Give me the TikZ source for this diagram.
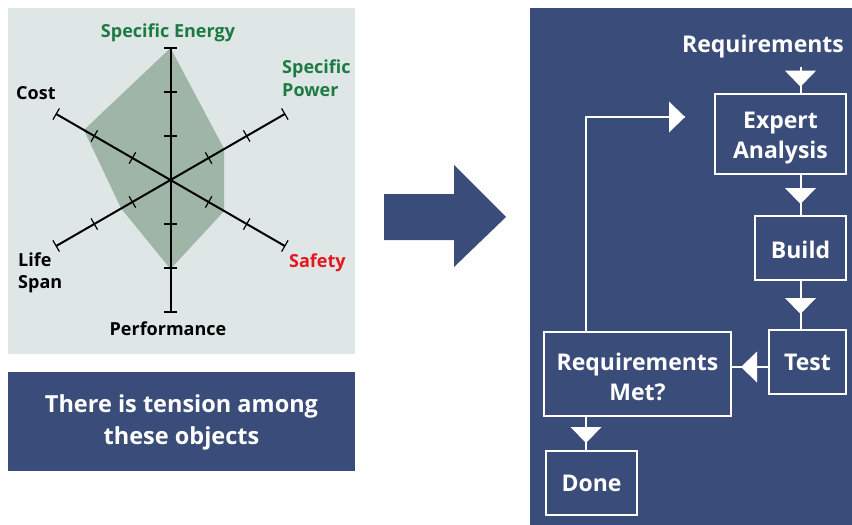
\documentclass[tikz,border=0pt]{standalone}
\usepackage{fontspec}
\setmainfont{Open Sans}
\usetikzlibrary{decorations.markings,calc}
\definecolor{navy}{HTML}{3A4C79}
\definecolor{bgpale}{HTML}{DEE7E5}
\definecolor{polyfill}{HTML}{9EB5A8}
\definecolor{lblgreen}{HTML}{1E7A45}
\definecolor{lblred}{HTML}{E8141E}
\begin{document}
\begin{tikzpicture}[x=1pt,y=-1pt,
  box/.style={draw=white,line width=2pt,fill=navy,inner sep=0pt},
  boxtext/.style={text=white,inner sep=0pt,align=center,
    font=\fontsize{23}{30}\selectfont\bfseries},
  flow/.style={draw=white,line width=2pt},
  tri/.style={postaction={decorate},decoration={markings,
    mark=at position #1 with {\fill[white] (0,0) -- (-16,15.5) -- (-16,-15.5) -- cycle;}}},
  lbl/.style={font=\fontsize{18}{22.5}\selectfont\bfseries,inner sep=0pt},
  axis/.style={line width=2pt,black},
  tick/.style={line width=1.2pt,black}]
\useasboundingbox (0,0) rectangle (852,525);
% left panel
\fill[bgpale] (8,8) rectangle (355,354);
\begin{scope}[shift={(170.5,180)},yscale=-1]
  \fill[polyfill] (90:132) -- (30:62) -- (-30:62) -- (-90:89) -- (-150:57) -- (150:100) -- cycle;
  \foreach \a in {90,30,-30,-90,-150,150}{
    \draw[axis] (0,0) -- (\a:132);
    \foreach \r in {44,88,132}{
      \draw[tick] (\a:\r) ++(\a+90:6.5) -- ++(\a-90:13);
    }
  }
\end{scope}
\node[lbl,text=lblgreen] (se) at (168,33) {Specific Energy};
\node[lbl,text=lblgreen,align=left,anchor=west] (sp) at (282,78) {Specific\\Power};
\node[lbl,text=lblred,anchor=west] (sa) at (289,263) {Safety};
\node[lbl] (pf) at (168,329) {Performance};
\node[lbl,align=left,anchor=west] (ls) at (18,273) {Life\\Span};
\node[lbl,anchor=west] (co) at (16,93) {Cost};
% caption box
\node[fill=navy,minimum width=347pt,minimum height=99pt,inner sep=0pt] (cap) at (181.5,421.5) {};
\node[text=white,inner sep=0pt,align=center,font=\fontsize{23.5}{32}\selectfont\bfseries]
  (captext) at ([yshift=-1pt]cap.center) {There is tension among\\these objects};
% big arrow
\fill[navy] (384,194) -- (454,194) -- (454,165) -- (506,217) -- (454,267) -- (454,240) -- (384,240) -- cycle;
% right panel
\fill[navy] (530,8) rectangle (852,525);
\node[boxtext] (req) at (763,47) {Requirements};
\node[box,minimum width=131pt,minimum height=80pt] (ea) at (780.5,134) {};
\node[box,minimum width=91pt,minimum height=64pt] (build) at (800.5,248) {};
\node[box,minimum width=77pt,minimum height=64pt] (test) at (807.5,362) {};
\node[box,minimum width=187pt,minimum height=84pt] (met) at (637.5,374) {};
\node[box,minimum width=91pt,minimum height=64pt] (done) at (591.5,483) {};
\node[boxtext] (eat) at ([yshift=-4pt]ea.center) {Expert\\Analysis};
\node[boxtext] (buildt) at ([yshift=-1.5pt]build.center) {Build};
\node[boxtext] (testt) at (test.center) {Test};
\node[boxtext] (mett) at ([yshift=-2.5pt]met.center) {Requirements\\Met?};
\node[boxtext] (donet) at (done.center) {Done};
\coordinate (fbx) at (586,0);
\coordinate (fbend) at (685,117);
\coordinate (hy) at (0,367);
\draw[flow,tri=20pt] ([yshift=-8pt]req.south -| build.north) -- (ea.north -| build.north);
\draw[flow,tri=29pt] (ea.south -| build.north) -- (build.north);
\draw[flow,tri=33pt] (build.south) -- (test.north -| build.south);
\draw[flow,tri=27pt] (test.west |- hy) -- (met.east |- hy);
\draw[flow,tri=26pt] (met.south -| fbx) -- (done.north -| fbx);
\draw[flow,tri=1] (met.north -| fbx) |- (fbend);
\end{tikzpicture}
\end{document}
